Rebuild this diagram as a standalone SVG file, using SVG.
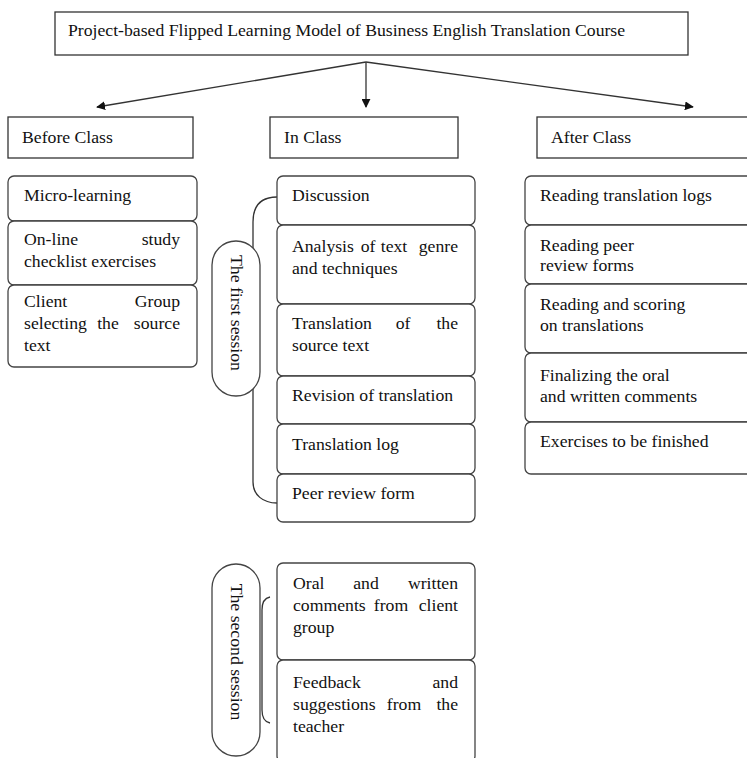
<svg xmlns="http://www.w3.org/2000/svg" width="747" height="758" viewBox="0 0 747 758">
<style>
.bx{fill:#fff;stroke:#333;stroke-width:1.3}
.rb{fill:#fff;stroke:#444;stroke-width:1.3}
.t{font-family:"Liberation Serif","Times New Roman",serif;font-size:17.7px;fill:#111}
.c{text-anchor:middle}
.e{text-anchor:end}
.ln{fill:none;stroke:#333;stroke-width:1.3}
</style>
<defs>
<marker id="ah" viewBox="0 0 10 10" refX="9" refY="5" markerWidth="9" markerHeight="9" markerUnits="userSpaceOnUse" orient="auto">
<path d="M0,0 L10,5 L0,10 z" fill="#111"/>
</marker>
</defs>
<rect width="747" height="758" fill="#fff"/>
<g id="connectors">
<line class="ln" x1="366" y1="62" x2="97" y2="107" marker-end="url(#ah)"/>
<line class="ln" x1="366" y1="62" x2="366" y2="107" marker-end="url(#ah)"/>
<line class="ln" x1="366" y1="62" x2="693" y2="107" marker-end="url(#ah)"/>
<path class="ln" d="M277,197 C262,197 253,205 253,222 L253,482 C253,495 263,503 277,503"/>
<path class="ln" d="M270,597 C265,598 262,602 262,610 L262,710 C262,718 265,722 270,723"/>
</g>
<g id="title"><rect class="bx" x="55" y="12" width="633" height="43"/><text class="t" x="68" y="36">Project-based Flipped Learning Model of Business English Translation Course</text></g>
<g id="before"><rect class="bx" x="8" y="117" width="185" height="41"/><text class="t" x="22" y="143">Before Class</text></g>
<g id="in"><rect class="bx" x="270" y="117" width="188" height="41"/><text class="t" x="284" y="143">In Class</text></g>
<g id="after"><rect class="bx" x="537" y="117" width="215" height="41"/><text class="t" x="551" y="143">After Class</text></g>

<g id="b1"><rect class="rb" x="8" y="176" width="189" height="45" rx="6"/><text class="t" x="24" y="201">Micro-learning</text></g>
<g id="b2"><rect class="rb" x="8" y="221" width="189" height="64" rx="6"/><text class="t" x="24" y="245">On-line</text><text class="t e" x="180" y="245">study</text><text class="t" x="24" y="267">checklist exercises</text></g>
<g id="b3"><rect class="rb" x="8" y="285" width="189" height="82" rx="6"/><text class="t" x="24" y="307">Client</text><text class="t e" x="180" y="307">Group</text><text class="t" x="24" y="329">selecting</text><text class="t c" x="108" y="329">the</text><text class="t e" x="180" y="329">source</text><text class="t" x="24" y="351">text</text></g>

<g id="session1"><rect class="rb" x="212" y="241" width="48" height="155" rx="24"/><text class="t c" transform="translate(231,313) rotate(90)">The first session</text></g>
<g id="m1"><rect class="rb" x="277" y="176" width="198" height="49" rx="6"/><text class="t" x="292" y="201">Discussion</text></g>
<g id="m2"><rect class="rb" x="277" y="225" width="198" height="79" rx="6"/><text class="t" x="292" y="252">Analysis</text><text class="t c" x="368" y="252">of</text><text class="t c" x="394" y="252">text</text><text class="t e" x="458" y="252">genre</text><text class="t" x="292" y="274">and techniques</text></g>
<g id="m3"><rect class="rb" x="277" y="304" width="198" height="72" rx="6"/><text class="t" x="292" y="329">Translation</text><text class="t c" x="403" y="329">of</text><text class="t e" x="458" y="329">the</text><text class="t" x="292" y="351">source text</text></g>
<g id="m4"><rect class="rb" x="277" y="376" width="198" height="48" rx="6"/><text class="t" x="292" y="401">Revision of translation</text></g>
<g id="m5"><rect class="rb" x="277" y="424" width="198" height="50" rx="6"/><text class="t" x="292" y="450">Translation log</text></g>
<g id="m6"><rect class="rb" x="277" y="474" width="198" height="48" rx="6"/><text class="t" x="292" y="499">Peer review form</text></g>

<g id="session2"><rect class="rb" x="212" y="564" width="48" height="192" rx="24"/><text class="t c" transform="translate(231,652) rotate(90)">The second session</text></g>
<g id="m7"><rect class="rb" x="277" y="563" width="198" height="97" rx="6"/><text class="t" x="293" y="589">Oral</text><text class="t c" x="366" y="589">and</text><text class="t e" x="458" y="589">written</text><text class="t" x="293" y="611">comments</text><text class="t c" x="391" y="611">from</text><text class="t e" x="458" y="611">client</text><text class="t" x="293" y="633">group</text></g>
<g id="m8"><rect class="rb" x="277" y="660" width="198" height="102" rx="6"/><text class="t" x="293" y="688">Feedback</text><text class="t e" x="458" y="688">and</text><text class="t" x="293" y="710">suggestions</text><text class="t c" x="404" y="710">from</text><text class="t e" x="458" y="710">the</text><text class="t" x="293" y="732">teacher</text></g>

<g id="a1"><rect class="rb" x="525" y="176" width="230" height="49" rx="6"/><text class="t" x="540" y="201">Reading translation logs</text></g>
<g id="a2"><rect class="rb" x="525" y="225" width="230" height="59" rx="6"/><text class="t" x="540" y="251">Reading peer</text><text class="t" x="540" y="271">review forms</text></g>
<g id="a3"><rect class="rb" x="525" y="284" width="230" height="69" rx="6"/><text class="t" x="540" y="310">Reading and scoring</text><text class="t" x="540" y="331">on translations</text></g>
<g id="a4"><rect class="rb" x="525" y="353" width="230" height="69" rx="6"/><text class="t" x="540" y="381">Finalizing the oral</text><text class="t" x="540" y="402">and written comments</text></g>
<g id="a5"><rect class="rb" x="525" y="422" width="230" height="52" rx="6"/><text class="t" x="540" y="447">Exercises to be finished</text></g>
</svg>
